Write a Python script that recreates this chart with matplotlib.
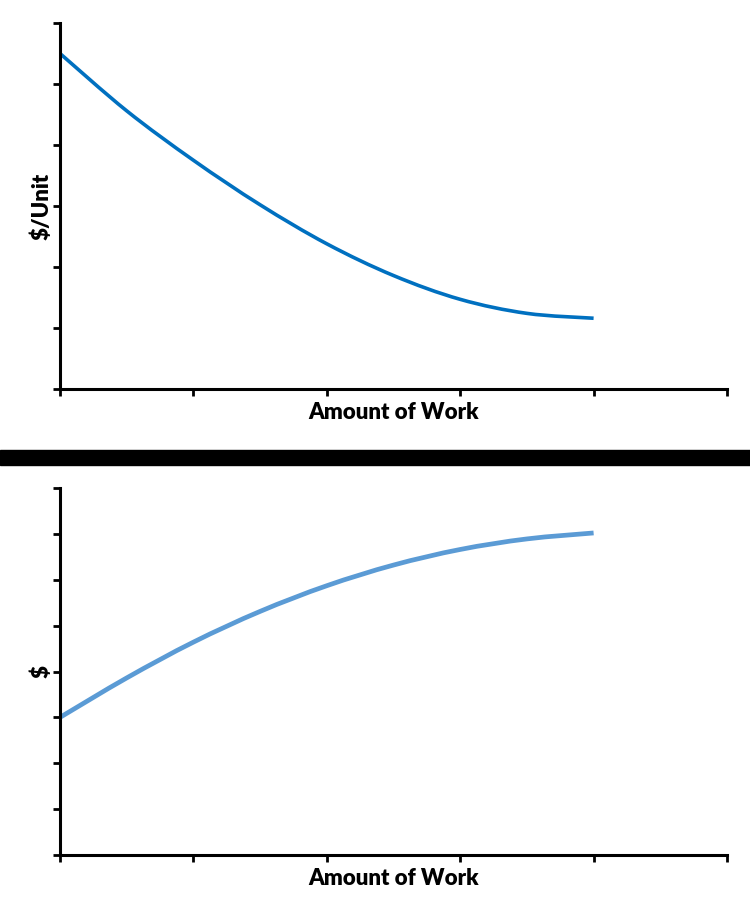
import matplotlib
matplotlib.use("Agg")
import matplotlib.pyplot as plt
from matplotlib.patches import Rectangle, PathPatch
from matplotlib.path import Path

# Data
work = [0, 0.5, 1, 1.5, 2, 2.5, 3, 3.5, 4]
cost_per_unit = [5.5, 4.56, 3.75, 3.02, 2.38, 1.86, 1.47, 1.24, 1.16]
total_cost = [3.0, 3.86, 4.64, 5.31, 5.87, 6.32, 6.66, 6.89, 7.02]
x_ticks = [0, 1, 2, 3, 4, 5]
top_y_ticks = [0, 1, 2, 3, 4, 5, 6]
bottom_y_ticks = [0, 1, 2, 3, 4, 5, 6, 7, 8]

plt.rcParams['font.family'] = ['Lato', 'DejaVu Sans']

fig = plt.figure(figsize=(7.5, 9.15), dpi=100)

W, H = 750, 915
def rect(l, t, r, b):
    return [l / W, (H - b) / H, (r - l) / W, (b - t) / H]

ax1 = fig.add_axes(rect(60, 23, 727, 389))
ax2 = fig.add_axes(rect(60, 488, 727, 855))


def smooth_line(ax, xs, ys, **kw):
    """Smoothed line (Catmull-Rom as cubic Bezier) through the data points."""
    n = len(xs)
    verts = [(xs[0], ys[0])]
    codes = [Path.MOVETO]
    for i in range(n - 1):
        x0, y0 = (xs[i - 1], ys[i - 1]) if i > 0 else (xs[i], ys[i])
        x1, y1 = xs[i], ys[i]
        x2, y2 = xs[i + 1], ys[i + 1]
        x3, y3 = (xs[i + 2], ys[i + 2]) if i + 2 < n else (xs[i + 1], ys[i + 1])
        c1 = (x1 + (x2 - x0) / 6, y1 + (y2 - y0) / 6)
        c2 = (x2 - (x3 - x1) / 6, y2 - (y3 - y1) / 6)
        verts += [c1, c2, (x2, y2)]
        codes += [Path.CURVE4] * 3
    patch = PathPatch(Path(verts, codes), fill=False, **kw)
    ax.add_patch(patch)


smooth_line(ax1, work, cost_per_unit, edgecolor='#0070C0', lw=2.6, capstyle='butt')
smooth_line(ax2, work, total_cost, edgecolor='#5B9BD5', lw=3.4, capstyle='butt')

for ax, yt, ylabel in [(ax1, top_y_ticks, '$/Unit'), (ax2, bottom_y_ticks, '$')]:
    ax.set_xlim(0, 5)
    ax.set_ylim(yt[0], yt[-1])
    ax.set_xticks(x_ticks)
    ax.set_yticks(yt)
    ax.set_xticklabels([])
    ax.set_yticklabels([])
    for s in ['top', 'right']:
        ax.spines[s].set_visible(False)
    for s in ['left', 'bottom']:
        ax.spines[s].set_linewidth(2.2)
        ax.spines[s].set_capstyle('projecting')
    ax.tick_params(direction='out', length=5, width=2, color='black')
    ax.set_xlabel('Amount of Work', fontsize=16, fontweight='heavy', labelpad=1)
    ax.set_ylabel(ylabel, fontsize=16, fontweight='heavy', labelpad=-3)
    ax.patch.set_alpha(0)

fig.patches.append(Rectangle((0, (H - 465) / H), 1, 15 / H,
                             transform=fig.transFigure, color='black', zorder=5))

fig.savefig('out.png', dpi=100, facecolor='white')
